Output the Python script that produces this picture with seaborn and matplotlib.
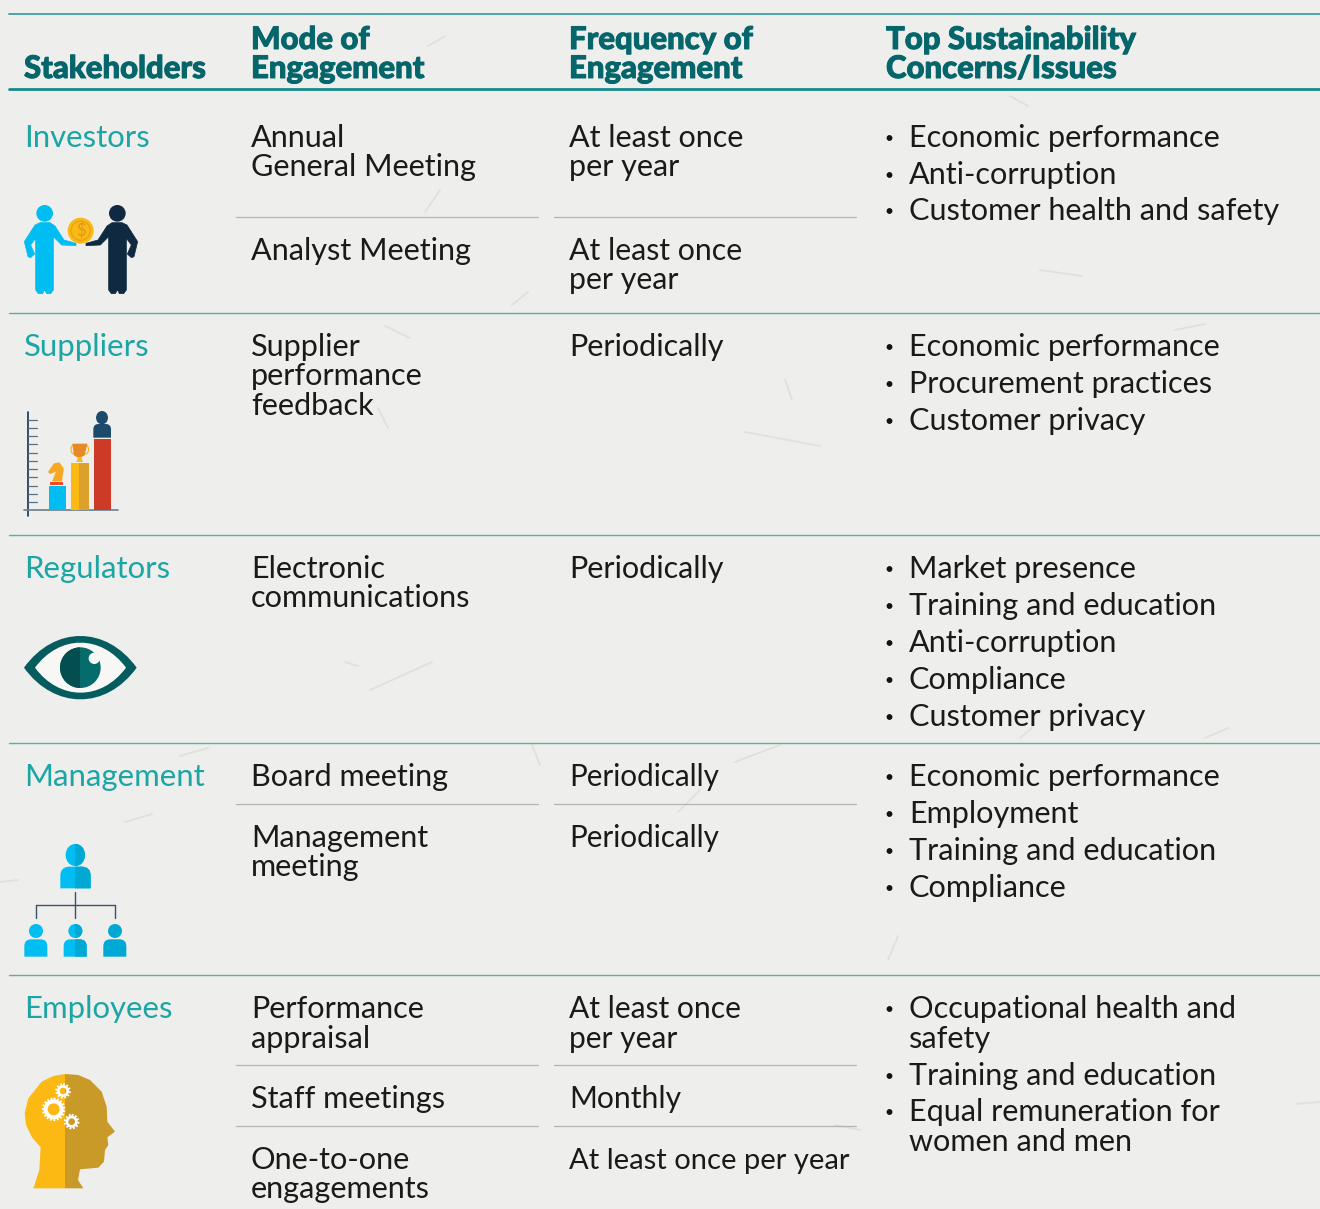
import numpy as np
import pandas as pd
import matplotlib.pyplot as plt
import matplotlib.patheffects as pe
import seaborn as sns
from matplotlib.patches import Circle, Ellipse, Polygon, Rectangle, PathPatch
from matplotlib.path import Path

# Table text
headers = [['Stakeholders'], ['Mode of', 'Engagement'], ['Frequency of', 'Engagement'],
           ['Top Sustainability', 'Concerns/Issues']]
stakeholders = ['Investors', 'Suppliers', 'Regulators', 'Management', 'Employees']
modes = ['Annual', 'General Meeting', 'Analyst Meeting', 'Supplier', 'performance', 'feedback',
         'Electronic', 'communications', 'Board meeting', 'Management', 'meeting',
         'Performance', 'appraisal', 'Staff meetings', 'One-to-one', 'engagements']
frequencies = ['At least once', 'per year', 'At least once', 'per year', 'Periodically', 'Periodically',
               'Periodically', 'Periodically', 'At least once', 'per year', 'Monthly',
               'At least once per year']
issues = ['Economic performance', 'Anti-corruption', 'Customer health and safety',
          'Economic performance', 'Procurement practices', 'Customer privacy',
          'Market presence', 'Training and education', 'Anti-corruption', 'Compliance', 'Customer privacy',
          'Economic performance', 'Employment', 'Training and education', 'Compliance',
          'Occupational health and', 'safety', 'Training and education', 'Equal remuneration for',
          'women and men']
issue_bullet = [1, 1, 1, 1, 1, 1, 1, 1, 1, 1, 1, 1, 1, 1, 1, 1, 0, 1, 1, 0]

# Baselines of the text lines, in image pixels
stakeholder_y = [147, 356, 578, 786, 1018]
mode_y = [147, 176, 260, 356, 385, 415, 578, 607, 786, 847, 876, 1018, 1048, 1108, 1169, 1198]
frequency_y = [147, 176, 260, 289, 356, 578, 786, 847, 1018, 1048, 1108, 1169]
frequency_size = [22, 22, 21.8, 21.8, 22, 22, 21.3, 21.3, 21.6, 21.6, 21.6, 21]
issue_y = [147, 184, 220, 356, 393, 430, 578, 615, 652, 689, 726, 786, 823, 860, 897,
           1018, 1048, 1085, 1121, 1151]

# Rules
row_rules = [313, 535, 743, 975]
sub_rules = [217, 804, 1065, 1126]

# Paper fibres (x0, y0, x1, y1)
fibres = [(428, 46, 445, 36), (1010, 96, 1028, 106), (385, 326, 410, 338), (378, 408, 388, 428),
          (425, 212, 440, 190), (1175, 330, 1205, 324), (745, 432, 820, 446), (785, 380, 792, 400),
          (370, 690, 432, 662), (735, 762, 780, 745), (532, 745, 540, 765), (180, 756, 208, 748),
          (125, 822, 152, 814), (678, 812, 700, 790), (888, 960, 898, 936), (0, 882, 18, 880),
          (1296, 1104, 1320, 1102), (1040, 270, 1082, 276), (1020, 738, 1032, 728), (1205, 738, 1228, 728),
          (512, 305, 528, 292), (345, 662, 358, 666), (835, 1125, 860, 1130)]

BG = '#eeeeec'
TEAL_DARK = '#04666b'
TEAL = '#1ba5a5'
BLUE = '#00bdf2'
BLUE_D = '#00a9d4'
GOLD = '#fdb913'
GOLD_D = '#c99a28'
NAVY = '#0f2a40'

sns.set_theme(style='white', rc={'axes.facecolor': BG, 'figure.facecolor': BG})
plt.rcParams['font.family'] = ['Lato', 'DejaVu Sans']

fig = plt.figure(figsize=(13.2, 12.09), dpi=100)
ax = fig.add_axes([0, 0, 1, 1])
ax.set_xlim(0, 1320)
ax.set_ylim(1209, 0)
ax.axis('off')
fig.patch.set_facecolor(BG)


def rule(x0, x1, y, color, lw):
    sns.lineplot(x=[x0, x1], y=[y, y], ax=ax, color=color, linewidth=lw, legend=False, errorbar=None)


for x0, y0, x1, y1 in fibres:
    ax.plot([x0, x1], [y0, y1], color='#e0e0dc', lw=1.3, solid_capstyle='round', zorder=1)

rule(9, 1320, 14, '#3f9fa0', 1.3)
rule(9, 1320, 88.5, '#16898c', 2.0)
for y in row_rules:
    rule(9, 1320, y, '#62a9a9', 1.0)
for y in sub_rules:
    rule(236, 538, y, '#b4b4b0', 0.9)
    rule(554, 856, y, '#b4b4b0', 0.9)

# Text
head_kw = dict(color=TEAL_DARK, fontsize=22.4, fontweight='black', va='baseline', zorder=5,
               path_effects=[pe.withStroke(linewidth=0.7, foreground=TEAL_DARK)])
body_kw = dict(color='#1a1a1a', va='baseline', zorder=5)
ax.text(24, 78, headers[0][0], **head_kw)
for x, col in zip([251, 569, 886], headers[1:]):
    ax.text(x, 49, col[0], **head_kw)
    ax.text(x, 78, col[1], **head_kw)
for name, y in zip(stakeholders, stakeholder_y):
    ax.text(24, y, name, color=TEAL, fontsize=22.4, va='baseline', zorder=5)
for s, y in zip(modes, mode_y):
    ax.text(251, y, s, fontsize=22.1, **body_kw)
for s, y, size in zip(frequencies, frequency_y, frequency_size):
    ax.text(569, y, s, fontsize=size, **body_kw)
for s, y, b in zip(issues, issue_y, issue_bullet):
    ax.text(909, y, s, fontsize=22.1, **body_kw)
    if b:
        ax.add_patch(Circle((889.5, y - 9), 2.2, color='#111111', zorder=5))


# Icons are sketched in the coordinates of 3x crops
def to_px(pts, ox, oy):
    pts = np.asarray(pts, dtype=float) / 3
    return pts + [ox, oy]


def poly(pts, ox, oy, color, lw=0, clip=None):
    p = Polygon(to_px(pts, ox, oy), closed=True, facecolor=color, edgecolor=color, lw=lw,
                joinstyle='round', zorder=4)
    ax.add_patch(p)
    if clip is not None:
        x0, x1 = clip
        r = Rectangle((ox + x0 / 3, oy), (x1 - x0) / 3, 200, transform=ax.transData)
        p.set_clip_path(r)
    return p


def circ(x, y, r, ox, oy, color, **kw):
    c = Circle((ox + x / 3, oy + y / 3), r / 3, facecolor=color, edgecolor=kw.get('ec', 'none'),
               lw=kw.get('lw', 0), ls=kw.get('ls', '-'), zorder=kw.get('zorder', 4))
    ax.add_patch(c)
    return c


def box(x0, y0, x1, y1, ox, oy, color):
    ax.add_patch(Rectangle((ox + x0 / 3, oy + y0 / 3), (x1 - x0) / 3, (y1 - y0) / 3, facecolor=color,
                           edgecolor='none', zorder=4))


def bust(x0, x1, y0, y1, ox, oy, color, clip=None):
    # rounded shoulders, flat bottom
    d = (x1 - x0) * 0.3
    verts = [(x0, y1), (x0, y0 + d), (x0, y0), (x0 + d, y0), (x1 - d, y0), (x1, y0), (x1, y0 + d), (x1, y1), (x0, y1)]
    codes = [Path.MOVETO, Path.LINETO, Path.CURVE3, Path.CURVE3, Path.LINETO, Path.CURVE3, Path.CURVE3, Path.LINETO,
             Path.CLOSEPOLY]
    p = PathPatch(Path(to_px(verts, ox, oy), codes), facecolor=color, edgecolor='none', zorder=4)
    ax.add_patch(p)
    if clip is not None:
        p.set_clip_path(Rectangle((ox + clip[0] / 3, oy), (clip[1] - clip[0]) / 3, 200, transform=ax.transData))


# Investors
ox, oy = 0, 190
person = [(120, 98), (150, 98), (165, 108), (192, 150), (228, 160), (228, 167), (185, 165), (160, 140),
          (160, 300), (152, 311), (140, 311), (134, 300), (134, 225), (133, 300), (128, 311), (115, 311),
          (107, 300), (107, 145), (92, 165), (104, 192), (92, 203), (84, 200), (73, 155), (105, 105)]
poly(person, ox, oy, BLUE, lw=0.5)
circ(134, 70, 25, ox, oy, BLUE)
poly([(486 - x, y) for x, y in person], ox, oy, NAVY, lw=0.5)
circ(352, 70, 25, ox, oy, NAVY)
circ(242, 122, 39, ox, oy, GOLD, zorder=5)
circ(242, 122, 29, ox, oy, GOLD, ec='#e3a21a', lw=0.9, zorder=5)
ax.text(80.5, 230.7, '$', color='#d99a1c', fontsize=12, ha='center', va='center', zorder=6)

# Suppliers
ox, oy = 0, 400
ax.plot([28.3, 28.3], [411.5, 516], color='#12324f', lw=1.2, zorder=4)
for ty in [59, 84, 108, 133, 158, 183, 207, 232, 257, 282, 307]:
    ax.plot([28.3, 36.5], [oy + ty / 3] * 2, color='#5c7282', lw=0.9, zorder=4)
ax.plot([24, 118], [509.7, 509.7], color='#6b7f8c', lw=1.2, zorder=4)
box(147, 258, 198, 329, ox, oy, BLUE)
box(213, 189, 238, 329, ox, oy, GOLD)
box(238, 189, 267, 329, ox, oy, '#dca12a')
box(282, 117, 333, 329, ox, oy, '#cd3b26')
ax.add_patch(Ellipse((102, 417.7), 10.5, 12, color='#1b4a6b', zorder=4))
bust(280, 333, 72, 113, ox, oy, '#1b4a6b')
box(150, 245, 190, 256, ox, oy, '#ef4a2a')
poly([(156, 244), (186, 244), (191, 205), (178, 187), (162, 190), (144, 216), (150, 222), (168, 215)], ox, oy, '#f7a823')
poly([(217, 131), (262, 131), (254, 166), (242, 172), (232, 172), (222, 166)], ox, oy, '#e58a25')
poly([(232, 172), (246, 172), (246, 180), (250, 186), (228, 186), (232, 180)], ox, oy, GOLD)
ax.add_patch(Ellipse((74, 449.5), 6, 9, fill=False, ec=GOLD, lw=0.9, zorder=3))
ax.add_patch(Ellipse((85.5, 449.5), 6, 9, fill=False, ec=GOLD, lw=0.9, zorder=3))

# Regulators
ox, oy = 0, 620


def lens(x0, x1, top, bottom, cy, color):
    k = 4 / 3
    verts = [(x0, cy),
             (x0 + (x1 - x0) * 0.27, cy + (top - cy) * k), (x0 + (x1 - x0) * 0.73, cy + (top - cy) * k), (x1, cy),
             (x0 + (x1 - x0) * 0.73, cy + (bottom - cy) * k), (x0 + (x1 - x0) * 0.27, cy + (bottom - cy) * k), (x0, cy)]
    codes = [Path.MOVETO, Path.CURVE4, Path.CURVE4, Path.CURVE4, Path.CURVE4, Path.CURVE4, Path.CURVE4]
    ax.add_patch(PathPatch(Path(to_px(verts, ox, oy), codes), facecolor=color, edgecolor='none', zorder=4))


lens(72, 410, 48, 238, 143, '#045c5e')
lens(105, 378, 68, 218, 143, '#f7f7f6')
circ(241, 143, 61, ox, oy, '#066b6b', zorder=5)
iris = circ(241, 143, 61, ox, oy, '#034f50', zorder=5)
iris.set_clip_path(Rectangle((ox + 180 / 3, oy), 61 / 3, 100, transform=ax.transData))
circ(283, 115, 17, ox, oy, '#f7f7f6', zorder=6)

# Management
ox, oy = 0, 835
LINK = '#34536b'
for xs, ys in [([226, 226], [170, 250]), ([108, 344], [210, 210]), ([108, 108], [210, 250]), ([344, 344], [210, 250])]:
    ax.plot(np.array(xs) / 3, oy + np.array(ys) / 3, color=LINK, lw=1.0, zorder=3)
e = Ellipse((226 / 3, oy + 20), 18, 20.7, color=BLUE, zorder=4)
ax.add_patch(e)
e = Ellipse((226 / 3, oy + 20), 18, 20.7, color=BLUE_D, zorder=4)
ax.add_patch(e)
e.set_clip_path(Rectangle((226 / 3, oy), 40, 100, transform=ax.transData))
bust(181, 272, 95, 160, ox, oy, BLUE)
bust(181, 272, 95, 160, ox, oy, BLUE_D, clip=(226, 280))
for cx, x0, x1, split in [(108, 73, 142, None), (226, 191, 260, 226), (345, 310, 379, 310)]:
    col = BLUE_D if split == 310 else BLUE
    circ(cx, 288, 21, ox, oy, col)
    bust(x0, x1, 313, 365, ox, oy, col)
    if split == 226:
        c = circ(cx, 288, 21, ox, oy, BLUE_D)
        c.set_clip_path(Rectangle((226 / 3, oy), 40, 150, transform=ax.transData))
        bust(x0, x1, 313, 365, ox, oy, BLUE_D, clip=(226, 280))

# Employees
ox, oy = 0, 1060
head = [(100, 385), (118, 330), (122, 262), (96, 232), (78, 195), (74, 160), (85, 115), (125, 65), (160, 48),
        (195, 42), (235, 45), (270, 60), (305, 95), (320, 140), (322, 185), (345, 215), (322, 232), (325, 255),
        (315, 270), (312, 305), (295, 323), (240, 328), (234, 360), (250, 385)]
poly(head, ox, oy, GOLD, clip=(60, 196))
poly(head, ox, oy, GOLD_D, clip=(195, 360))
for x, y, r, w in [(161, 148, 24, 12), (189, 93, 14, 8), (215, 185, 14, 8)]:
    circ(x, y, r, ox, oy, 'none', ec='white', lw=w / 3 * 0.72, zorder=6)
    circ(x, y, r + w / 2 + 2, ox, oy, 'none', ec='white', lw=1.6, ls=(0, (0.8, 0.8)), zorder=6)

fig.savefig('out.png', dpi=100, facecolor=BG)
